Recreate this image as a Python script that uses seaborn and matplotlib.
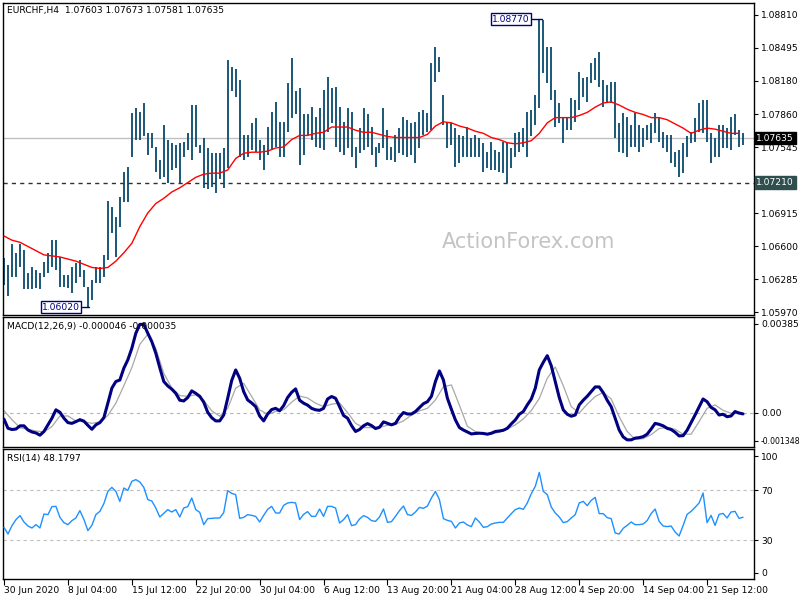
import numpy as np
import pandas as pd
import matplotlib
matplotlib.use("Agg")
import matplotlib.pyplot as plt
import seaborn as sns

# ---------------- data (EURCHF H4, each point = one pair of H4 bars) ----------------
highs = [
    1.0649,1.0642,1.0662,1.0654,1.0662,1.0657,1.0635,1.0640,1.0638,1.0635,
    1.0645,1.0654,1.0666,1.0666,1.0650,1.0633,1.0633,1.0640,1.0644,1.0647,
    1.0638,1.0621,1.0628,1.0640,1.0640,1.0652,1.0703,1.0698,1.0688,1.0707,
    1.0731,1.0736,1.0787,1.0792,1.0788,1.0797,1.0768,1.0768,1.0755,1.0743,
    1.0776,1.0762,1.0759,1.0757,1.0759,1.0760,1.0768,
    1.0795,1.0795,1.0757,1.0764,1.0754,1.0749,1.0749,1.0749,1.0754,1.0838,
    1.0831,1.0829,1.0819,1.0766,1.0766,1.0778,1.0783,1.0762,1.0757,1.0774,
    1.0788,1.0798,1.0779,1.0779,1.0816,1.0840,1.0808,1.0811,1.0786,1.0786,
    1.0793,1.0784,1.0792,1.0809,1.0822,1.0811,1.0812,1.0793,1.0779,1.0792,
    1.0788,1.0755,1.0773,1.0792,1.0786,1.0774,
    1.0755,1.0759,1.0792,1.0771,1.0755,1.0766,1.0773,1.0784,1.0781,1.0778,
    1.0779,1.0788,1.0790,1.0787,1.0835,1.0850,1.0841,1.0805,1.0778,1.0778,
    1.0773,1.0766,1.0765,1.0774,1.0764,1.0766,1.0764,1.0759,1.0750,1.0760,
    1.0752,1.0750,1.0760,1.0760,1.0754,1.0768,1.0769,1.0773,1.0788,1.0790,
    1.0805,1.0877,1.0876,1.0850,1.0850,1.0809,1.0797,
    1.0783,1.0783,1.0802,1.0800,1.0827,1.0821,1.0822,1.0835,1.0840,1.0846,
    1.0819,1.0814,1.0817,1.0817,1.0778,1.0787,1.0784,1.0776,1.0787,1.0776,
    1.0773,1.0776,1.0778,1.0787,1.0784,1.0769,1.0766,1.0766,1.0750,1.0752,
    1.0759,1.0765,1.0769,1.0783,1.0797,1.0800,1.0800,1.0768,1.0764,1.0776,
    1.0776,1.0773,1.0784,1.0786,1.0771,1.0768,
]
lows = [
    1.0623,1.0613,1.0631,1.0631,1.0640,1.0619,1.0619,1.0619,1.0620,1.0619,
    1.0631,1.0635,1.0640,1.0638,1.0621,1.0621,1.0620,1.0616,1.0625,1.0631,
    1.0621,1.0602,1.0609,1.0625,1.0625,1.0631,1.0647,1.0673,1.0650,1.0679,
    1.0702,1.0702,1.0745,1.0762,1.0762,1.0765,1.0747,1.0754,1.0731,1.0724,
    1.0726,1.0721,1.0733,1.0735,1.0721,1.0745,1.0752,
    1.0743,1.0755,1.0749,1.0716,1.0715,1.0717,1.0711,1.0724,1.0716,1.0735,
    1.0808,1.0803,1.0745,1.0743,1.0745,1.0752,1.0750,1.0743,1.0733,1.0747,
    1.0752,1.0755,1.0745,1.0745,1.0769,1.0783,1.0786,1.0738,1.0747,1.0766,
    1.0762,1.0755,1.0754,1.0752,1.0769,1.0778,1.0755,1.0750,1.0747,1.0754,
    1.0745,1.0735,1.0749,1.0752,1.0755,1.0747,
    1.0736,1.0749,1.0754,1.0743,1.0743,1.0741,1.0749,1.0747,1.0745,1.0747,
    1.0740,1.0754,1.0766,1.0769,1.0771,1.0817,1.0827,1.0776,1.0754,1.0757,
    1.0736,1.0740,1.0745,1.0745,1.0745,1.0745,1.0745,1.0731,1.0735,1.0733,
    1.0733,1.0731,1.0730,1.0721,1.0735,1.0745,1.0750,1.0755,1.0745,1.0765,
    1.0776,1.0792,1.0826,1.0816,1.0800,1.0774,1.0778,
    1.0759,1.0771,1.0771,1.0779,1.0790,1.0803,1.0798,1.0816,1.0819,1.0812,
    1.0793,1.0797,1.0797,1.0764,1.0750,1.0749,1.0745,1.0755,1.0755,1.0750,
    1.0755,1.0762,1.0759,1.0768,1.0760,1.0754,1.0750,1.0740,1.0736,1.0726,
    1.0730,1.0745,1.0759,1.0760,1.0769,1.0768,1.0760,1.0740,1.0745,1.0745,
    1.0754,1.0754,1.0752,1.0766,1.0755,1.0757,
]
# moving average, one value for every second point
ma_vals = [
    1.0670,1.0666,1.0664,1.0660,1.0656,1.0652,1.0651,1.0650,1.0648,1.0646,
    1.0643,1.0640,1.0639,1.0640,1.0646,1.0654,1.0663,1.0679,1.0692,1.0701,
    1.0706,1.0712,1.0716,1.0721,1.0726,1.0729,1.0730,1.0730,1.0733,1.0744,
    1.0749,1.0750,1.0750,1.0751,1.0754,1.0755,1.0762,1.0766,1.0766,1.0768,
    1.0769,1.0774,1.0774,1.0774,1.0771,1.0769,1.0769,1.0767,1.0765,1.0764,
    1.0764,1.0764,1.0764,1.0767,1.0775,1.0779,1.0778,1.0775,1.0773,1.0770,
    1.0768,1.0764,1.0762,1.0759,1.0758,1.0759,1.0761,1.0768,1.0778,1.0783,
    1.0783,1.0783,1.0785,1.0788,1.0793,1.0797,1.0798,1.0795,1.0791,1.0788,
    1.0786,1.0783,1.0783,1.0781,1.0777,1.0773,1.0768,1.0771,1.0773,1.0772,
    1.0770,1.0768,1.0768,
]
macd_main = [
    -0.00026,-0.00063,-0.00068,-0.00066,-0.00053,-0.00053,-0.00070,-0.00078,-0.00082,-0.00091,
    -0.00076,-0.00049,-0.00022,0.00012,0.00002,-0.00022,-0.00040,-0.00043,-0.00036,-0.00028,
    -0.00034,-0.00051,-0.00067,-0.00049,-0.00040,-0.00020,0.00039,0.00100,0.00127,0.00133,
    0.00181,0.00215,0.00262,0.00323,0.00359,0.00359,0.00323,0.00289,0.00242,0.00183,
    0.00127,0.00109,0.00096,0.00079,0.00051,0.00048,0.00062,0.00089,0.00079,0.00067,
    0.00043,0.00002,-0.00020,-0.00033,-0.00033,-0.00009,0.00059,0.00131,0.00174,0.00140,
    0.00086,0.00052,0.00040,0.00025,-0.00013,-0.00033,-0.00005,0.00013,0.00018,0.00008,
    0.00029,0.00062,0.00083,0.00097,0.00051,0.00039,0.00031,0.00018,0.00012,0.00010,
    0.00018,0.00056,0.00066,0.00059,0.00025,-0.00011,-0.00022,-0.00052,-0.00076,-0.00068,
    -0.00053,-0.00044,-0.00052,-0.00064,-0.00059,-0.00037,-0.00043,-0.00049,-0.00043,-0.00017,
    0.00001,-0.00005,-0.00005,0.00005,0.00021,0.00037,0.00045,0.00067,0.00127,0.00170,
    0.00133,0.00059,0.00014,-0.00029,-0.00060,-0.00070,-0.00078,-0.00086,-0.00084,-0.00083,
    -0.00084,-0.00087,-0.00083,-0.00076,-0.00074,-0.00071,-0.00063,-0.00045,-0.00029,-0.00006,
    0.00005,0.00032,0.00056,0.00100,0.00174,0.00205,0.00232,0.00191,0.00127,0.00062,
    0.00012,-0.00006,-0.00014,-0.00009,0.00032,0.00051,0.00067,0.00086,0.00105,0.00105,
    0.00082,0.00051,0.00025,-0.00022,-0.00070,-0.00098,-0.00110,-0.00110,-0.00103,-0.00101,
    -0.00097,-0.00087,-0.00066,-0.00043,-0.00047,-0.00053,-0.00063,-0.00068,-0.00079,-0.00094,
    -0.00093,-0.00071,-0.00040,-0.00009,0.00024,0.00056,0.00045,0.00022,0.00012,-0.00009,
    -0.00006,-0.00016,-0.00013,0.00005,-0.00001,-0.000046,
]
macd_signal = [
    0.00008,-0.00028,-0.00061,-0.00067,-0.00074,-0.00078,-0.00056,-0.00013,-0.00013,-0.00033,
    -0.00036,-0.00043,-0.00037,-0.00011,0.00039,0.00110,0.00183,0.00278,0.00319,0.00262,
    0.00160,0.00101,0.00070,0.00067,0.00073,0.00050,0.00008,-0.00014,0.00018,0.00100,
    0.00120,0.00066,0.00012,-0.00006,0.00005,0.00012,0.00043,0.00068,0.00060,0.00039,
    0.00025,0.00035,0.00040,0.00001,-0.00043,-0.00060,-0.00060,-0.00059,-0.00051,-0.00047,
    -0.00033,-0.00009,0.00008,0.00018,0.00052,0.00106,0.00113,0.00031,-0.00055,-0.00076,
    -0.00084,-0.00086,-0.00079,-0.00066,-0.00049,-0.00025,0.00009,0.00058,0.00140,0.00186,
    0.00110,0.00025,-0.00001,0.00035,0.00066,0.00083,0.00056,-0.00016,-0.00076,-0.00108,
    -0.00105,-0.00089,-0.00064,-0.00059,-0.00067,-0.00087,-0.00087,-0.00036,0.00018,0.00032,
    0.00010,-0.00002,-0.000035,
]
rsi_vals = [
    40.1,34.8,41.5,46.3,49.5,44.4,41.2,39.6,42.3,39.6,
    50.8,50.3,56.7,56.9,48.1,43.9,42.3,45.5,47.6,53.5,
    46.5,37.5,41.7,50.3,52.9,59.1,68.9,72.1,68.9,60.9,
    71.6,69.7,76.9,78.3,76.4,72.1,62.3,61.2,55.6,48.4,
    51.3,54.3,52.4,54.3,48.4,55.6,56.7,63.6,54.3,52.1,
    42.3,47.1,47.3,47.6,47.6,51.9,69.5,67.3,66.3,47.3,
    48.1,50.3,49.7,48.9,44.4,49.7,54.5,56.9,51.6,51.6,
    57.7,59.6,60.1,59.6,46.3,50.5,52.7,48.9,48.9,54.8,
    48.9,56.9,56.9,55.6,43.6,46.3,50.3,41.5,42.3,46.8,
    49.5,48.1,45.5,44.9,48.4,54.8,44.1,44.7,48.9,53.5,
    57.2,50.3,49.7,52.4,56.1,55.3,57.2,63.6,68.9,62.3,
    47.1,45.7,44.9,39.6,43.6,44.4,42.0,40.7,47.6,44.4,
    40.1,40.7,42.8,43.6,44.1,44.1,47.6,51.1,54.3,55.6,
    54.5,59.6,67.1,72.9,84.1,68.9,66.3,56.4,51.6,48.4,
    43.9,44.7,47.6,50.3,59.6,60.9,57.5,61.7,64.1,51.1,
    51.1,47.9,47.1,35.6,34.8,39.3,41.7,44.4,42.3,42.3,
    42.8,45.5,51.1,54.8,44.9,41.2,40.7,41.2,36.4,33.2,
    41.5,50.5,52.9,56.1,59.6,67.6,43.9,49.7,41.7,50.5,
    51.3,47.6,52.4,52.9,47.3,48.18,
]
date_labels = ["30 Jun 2020", "8 Jul 04:00", "15 Jul 12:00", "22 Jul 20:00",
               "30 Jul 04:00", "6 Aug 12:00", "13 Aug 20:00", "21 Aug 04:00",
               "28 Aug 12:00", "4 Sep 20:00", "14 Sep 04:00", "21 Sep 12:00"]
price_ticks = [1.08810, 1.08495, 1.08180, 1.07860, 1.07545, 1.07230,
               1.06915, 1.06600, 1.06285, 1.05970]
price_tick_labels = ["1.08810", "1.08495", "1.08180", "1.07860", "1.07545", "",
                     "1.06915", "1.06600", "1.06285", "1.05970"]
last_price = 1.07635
support_level = 1.07210
high_mark = 1.08770
low_mark = 1.06020

# ---------------- frames ----------------
n = len(highs)
idx = np.arange(n)
bars = pd.DataFrame({"i": idx, "high": highs, "low": lows,
                     "macd": macd_main, "rsi": rsi_vals})
half = pd.DataFrame({"i": np.arange(0, n, 2)[:len(ma_vals)], "ma": ma_vals,
                     "signal": macd_signal})

sns.set_style("white")
plt.rcParams['font.family'] = ['DejaVu Sans']
FS = 6.6

W, H = 800, 600
fig = plt.figure(figsize=(8, 6), dpi=100)
fig.patch.set_facecolor("white")

def rect(x0, y0, x1, y1):
    return [x0 / W, 1 - y1 / H, (x1 - x0) / W, (y1 - y0) / H]

ax1 = fig.add_axes(rect(3, 3, 754, 315))
ax2 = fig.add_axes(rect(3, 317, 754, 447))
ax3 = fig.add_axes(rect(3, 449, 754, 579))

XL = (-0.25, 187.75)
for ax in (ax1, ax2, ax3):
    ax.set_xlim(*XL)
    for s in ax.spines.values():
        s.set_color("black")
        s.set_linewidth(1.0)
    ax.yaxis.tick_right()
    ax.tick_params(axis="y", direction="out", length=3, width=0.8,
                   labelsize=FS, pad=2, colors="black")
    ax.set_xlabel("")
    ax.set_ylabel("")

bar_color = "#0a4a6e"

# ---- price panel ----
ax1.set_ylim(1.05946, 1.08924)
ax1.axhline(last_price, color="#c0c0c0", lw=1, zorder=1)
ax1.axhline(support_level, color="#303030", lw=1, ls=(0, (3, 3)), zorder=1)
ax1.vlines(bars["i"], bars["low"], bars["high"], color=bar_color, lw=1.3, zorder=2)
sns.lineplot(data=half, x="i", y="ma", ax=ax1, color="#ff0000", lw=1.0, zorder=3)
ax1.set_xlabel(""); ax1.set_ylabel("")
ax1.set_yticks(price_ticks)
ax1.set_yticklabels(price_tick_labels)
ax1.set_xticks([])

ax1.text(0.70, 0.235, "ActionForex.com", transform=ax1.transAxes, fontsize=15,
         color="#c4c4c4", ha="center", va="center", zorder=0)

ax1.text(1.003, last_price, "1.07635", transform=ax1.get_yaxis_transform(),
         ha="left", va="center", color="white", fontsize=FS, zorder=10, clip_on=False,
         bbox=dict(boxstyle="square,pad=0.18", fc="black", ec="black"))
ax1.text(1.003, support_level, "1.07210", transform=ax1.get_yaxis_transform(),
         ha="left", va="center", color="white", fontsize=FS, zorder=10, clip_on=False,
         bbox=dict(boxstyle="square,pad=0.18", fc="#2f4f4f", ec="#2f4f4f"))

# high / low markers
ax1.text(131.6, high_mark, "1.08770", ha="right", va="center", color="#000080",
         fontsize=FS, zorder=10,
         bbox=dict(boxstyle="square,pad=0.15", fc="white", ec="#000080", lw=1))
ax1.plot([132.1, 134.6], [high_mark, high_mark], color="#000080", lw=1, zorder=9)
ax1.text(19.0, low_mark, "1.06020", ha="right", va="center", color="#000080",
         fontsize=FS, zorder=10,
         bbox=dict(boxstyle="square,pad=0.15", fc="white", ec="#000080", lw=1))
ax1.plot([19.5, 21.3], [low_mark, low_mark], color="#000080", lw=1, zorder=9)

fig.text(7 / W, 1 - 11 / H, "EURCHF,H4  1.07603 1.07673 1.07581 1.07635",
         fontsize=FS, color="black", ha="left", va="center")

# ---- MACD panel ----
ax2.set_ylim(-0.00139, 0.00389)
ax2.axhline(0, color="#b4b4b4", lw=0.8, ls=(0, (3, 3)), zorder=1)
sns.lineplot(data=half, x="i", y="signal", ax=ax2, color="#a8a8a8", lw=0.9, zorder=2)
sns.lineplot(data=bars, x="i", y="macd", ax=ax2, color="#000080", lw=2.2, zorder=3)
ax2.set_xlabel(""); ax2.set_ylabel("")
ax2.set_yticks([0.003606, 0.0, -0.001145])
ax2.set_yticklabels(["0.00385", "0.00", "-0.001348"])
ax2.get_yticklabels()[2].set_fontsize(5.6)
ax2.set_xticks([])
fig.text(7 / W, 1 - 327 / H, "MACD(12,26,9) -0.000046 -0.000035",
         fontsize=FS, color="black", ha="left", va="center")

# ---- RSI panel ----
ax3.set_ylim(-1.2, 102.8)
ax3.axhline(70, color="#c0c0c0", lw=0.8, ls=(0, (3, 3)), zorder=1)
ax3.axhline(30, color="#c0c0c0", lw=0.8, ls=(0, (3, 3)), zorder=1)
sns.lineplot(data=bars, x="i", y="rsi", ax=ax3, color="#1e90ff", lw=1.0, zorder=3)
ax3.set_xlabel(""); ax3.set_ylabel("")
ax3.set_yticks([97.2, 70, 30, 3.6])
ax3.set_yticklabels(["100", "70", "30", "0"])
ax3.set_xticks(np.arange(0, 16 * len(date_labels), 16))
ax3.set_xticklabels(date_labels)
ax3.tick_params(axis="x", direction="out", length=4, width=0.8, labelsize=FS,
                pad=1, colors="black", bottom=True)
for lab in ax3.get_xticklabels():
    lab.set_ha("left")
fig.text(7 / W, 1 - 459 / H, "RSI(14) 48.1797",
         fontsize=FS, color="black", ha="left", va="center")

fig.savefig("out.png", dpi=100, facecolor="white")
